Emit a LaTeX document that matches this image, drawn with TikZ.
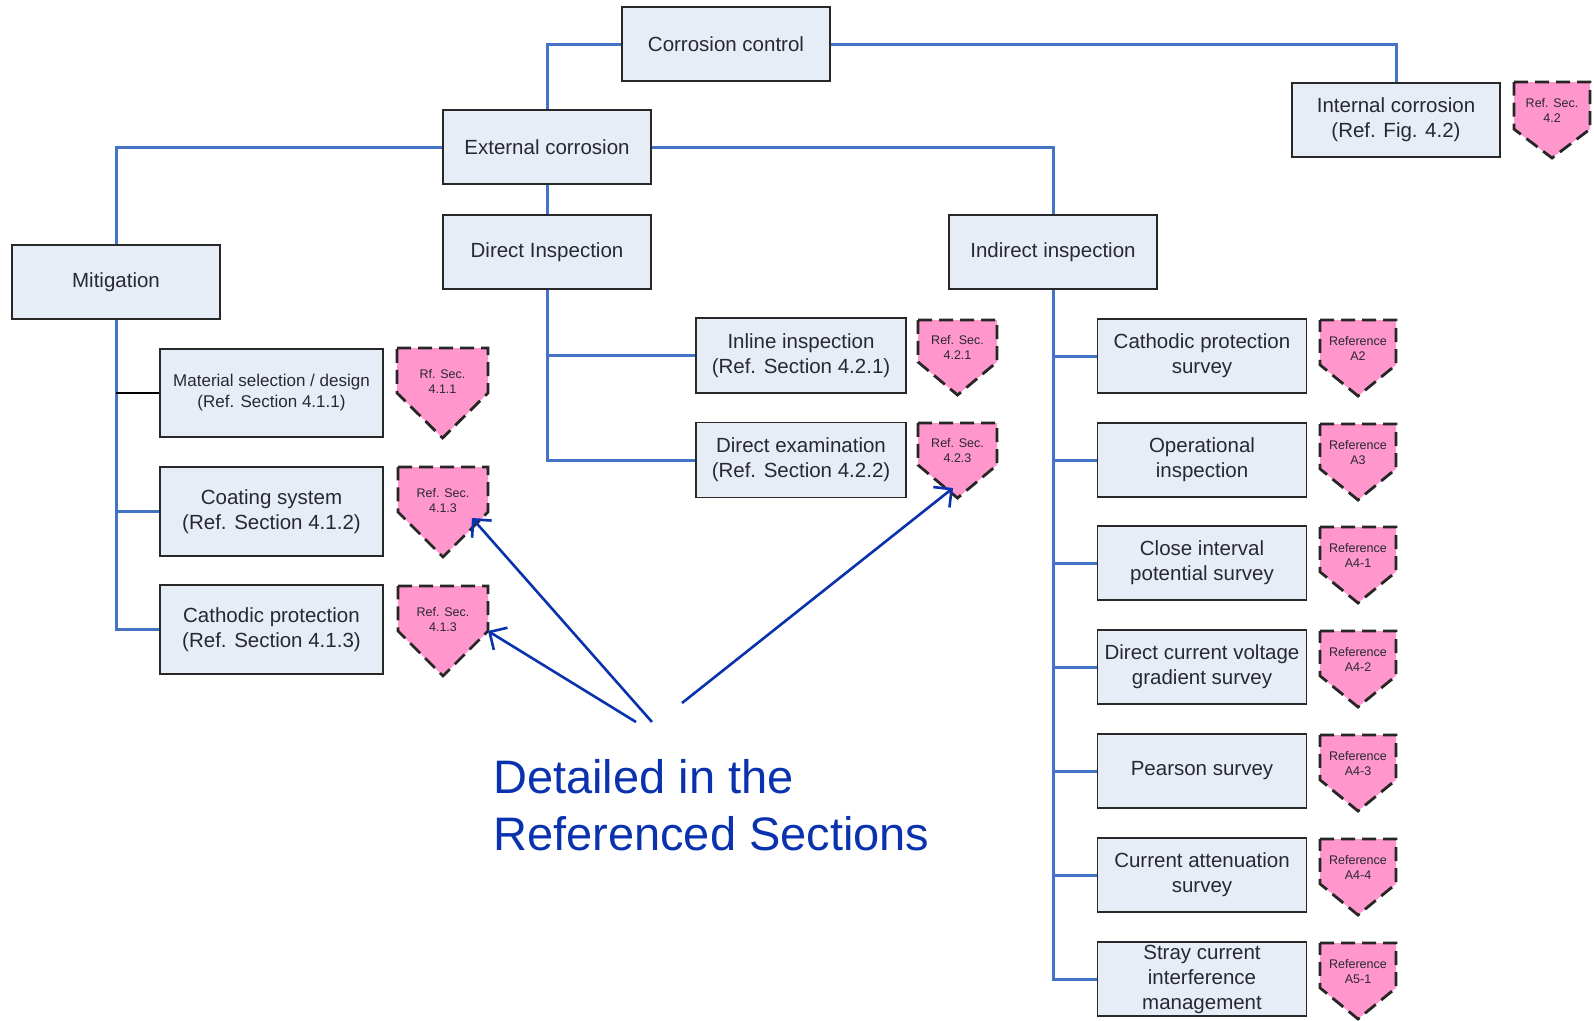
\documentclass[tikz,border=0pt]{standalone}
\usepackage{fontspec}
\setmainfont{Liberation Sans}
\usetikzlibrary{arrows.meta}
\definecolor{boxfill}{RGB}{231,237,247}
\definecolor{boxline}{RGB}{40,40,40}
\definecolor{conncol}{RGB}{68,114,196}
\definecolor{pinkfill}{RGB}{255,150,204}
\definecolor{notecol}{RGB}{10,50,175}
\definecolor{txt}{RGB}{40,40,50}
\newcommand{\refpent}[7]{%
  \coordinate (#1-nw) at ({#2-#4/2},{#3});
  \coordinate (#1-ne) at ({#2+#4/2},{#3});
  \coordinate (#1-rs) at ({#2+#4/2},{#3+#6*#5});
  \coordinate (#1-tip) at ({#2},{#3+#5});
  \coordinate (#1-ls) at ({#2-#4/2},{#3+#6*#5});
  \draw[pentstyle] (#1-nw) -- (#1-ne) -- (#1-rs) -- (#1-tip) -- (#1-ls) -- cycle;
  \node[penttext] (#1) at ({#2},{#3+0.37*#5}) {#7};
}
\begin{document}
\begin{tikzpicture}[x=1pt,y=-1pt,
  box/.style={draw=boxline, fill=boxfill, line width=1.7pt, minimum width=208pt,
    minimum height=74pt, align=center, inner sep=2pt,
    font=\fontsize{20.5}{25}\selectfont, text=txt},
  widebox/.style={box, minimum width=223pt, minimum height=89pt},
  midbox/.style={box, minimum width=210pt, minimum height=75pt},
  rbox/.style={box, minimum width=209pt, minimum height=74pt},
  pentstyle/.style={fill=pinkfill, draw=black!85, line width=2.8pt, dash pattern=on 14pt off 7pt},
  penttext/.style={align=center, inner sep=0pt, font=\fontsize{12.5}{15}\selectfont, text=txt},
  conn/.style={draw=conncol, line width=3pt},
  thinconn/.style={draw=black, line width=1.6pt},
  notearrow/.style={draw=notecol, line width=2.6pt, -{Straight Barb[length=13pt,width=26pt]}},
  notetext/.style={align=left, inner sep=0pt, text=notecol, font=\fontsize{47}{57}\selectfont}]
\useasboundingbox[fill=white] (0,0) rectangle (1594,1020);

\node[box] (cc) at (726,44) {Corrosion control};
\node[box] (ic) at (1396,120) {Internal corrosion\\(Ref. Fig. 4.2)};
\node[box] (ec) at (547,147) {External corrosion};
\node[box] (di) at (547,252) {Direct Inspection};
\node[box] (ii) at (1053,252) {Indirect inspection};
\node[box] (mit) at (116,282) {Mitigation};
\node[widebox, minimum height=88pt, font=\fontsize{17}{21}\selectfont] (mat) at (271.5,393) {Material selection / design\\(Ref. Section 4.1.1)};
\node[widebox] (coat) at (271.5,511.5) {Coating system\\(Ref. Section 4.1.2)};
\node[widebox] (cp) at (271.5,629.5) {Cathodic protection\\(Ref. Section 4.1.3)};
\node[midbox] (inl) at (801,355.5) {Inline inspection\\(Ref. Section 4.2.1)};
\node[midbox] (dex) at (801,460) {Direct examination\\(Ref. Section 4.2.2)};
\node[rbox] (r1) at (1202,356) {Cathodic protection\\survey};
\node[rbox] (r2) at (1202,460) {Operational\\inspection};
\node[rbox] (r3) at (1202,563) {Close interval\\potential survey};
\node[rbox] (r4) at (1202,667) {Direct current voltage\\gradient survey};
\node[rbox] (r5) at (1202,771) {Pearson survey};
\node[rbox] (r6) at (1202,875) {Current attenuation\\survey};
\node[rbox] (r7) at (1202,979) {Stray current\\interference\\management};

\draw[conn] (cc.west) -| (ec.north);
\draw[conn] (cc.east) -| (ic.north);
\draw[conn] (ec.west) -| (mit.north);
\draw[conn] (ec.east) -| (ii.north);
\draw[conn] (ec.south) -- (di.north);
\draw[conn] (di.south) |- (dex.west);
\draw[conn] (di.south |- inl.west) -- (inl.west);
\draw[conn] (mit.south) |- (cp.west);
\draw[thinconn] (mit.south |- mat.west) -- (mat.west);
\draw[conn] (mit.south |- coat.west) -- (coat.west);
\draw[conn] (ii.south) |- (r7.west);
\foreach \r in {r1,r2,r3,r4,r5,r6} {\draw[conn] (ii.south |- \r.west) -- (\r.west);}

\refpent{p42}{1552}{82}{76}{76}{0.62}{Ref. Sec.\\4.2}
\refpent{p411}{442.5}{348}{91}{90}{0.5}{Rf. Sec.\\4.1.1}
\refpent{p412}{443}{467}{90}{90}{0.5}{Ref. Sec.\\4.1.3}
\refpent{p413}{443}{586}{90}{90}{0.5}{Ref. Sec.\\4.1.3}
\refpent{p421}{957.5}{320}{79}{75}{0.56}{Ref. Sec.\\4.2.1}
\refpent{p423}{957.5}{423}{79}{75}{0.56}{Ref. Sec.\\4.2.3}
\refpent{q1}{1358}{320}{76}{76}{0.59}{Reference\\A2}
\refpent{q2}{1358}{424}{76}{76}{0.59}{Reference\\A3}
\refpent{q3}{1358}{527}{76}{76}{0.59}{Reference\\A4-1}
\refpent{q4}{1358}{631}{76}{76}{0.59}{Reference\\A4-2}
\refpent{q5}{1358}{735}{76}{76}{0.59}{Reference\\A4-3}
\refpent{q6}{1358}{839}{76}{76}{0.59}{Reference\\A4-4}
\refpent{q7}{1358}{943}{76}{76}{0.59}{Reference\\A5-1}

\node[notetext, anchor=base west] (note) at (493,850) {Detailed in the\\Referenced Sections};
\coordinate (s1) at (652,722);
\coordinate (s2) at (636,722);
\coordinate (s3) at (682,703);
\coordinate (h1) at (472,518);
\coordinate (h3) at (953,488);
\draw[notearrow] (s1) -- (h1);
\draw[notearrow] (s2) -- (p413-rs);
\draw[notearrow] (s3) -- (h3);
\end{tikzpicture}
\end{document}
